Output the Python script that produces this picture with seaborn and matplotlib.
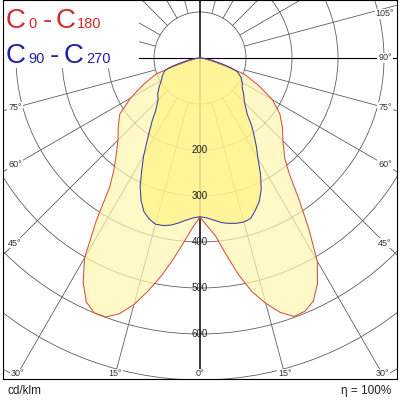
import numpy as np
import matplotlib
matplotlib.use("Agg")
import matplotlib.pyplot as plt
import seaborn as sns
from matplotlib.patches import Circle, Rectangle

# ── 배광 데이터 (cd/klm), 감마각 0°=하향 ─────────────────────────
gamma = [0, 2.5, 5, 7.5, 10, 12.5, 15, 17.5, 20, 22.5, 25, 27.5, 30, 32.5,
         35, 37.5, 40, 45, 50, 55, 60, 65, 70, 72.5, 75, 80, 85, 90]
c0 = [346, 366, 388, 430, 477, 520, 552, 580, 598, 596, 583, 553, 510, 440,
      375, 320, 287, 255, 234, 212, 182, 140, 102, 60, 33, 12, 4, 0]
c180 = [346, 369, 402, 440, 480, 518, 555, 583, 599, 600, 585, 550, 502, 420,
        342, 308, 285, 252, 232, 213, 175, 135, 102, 60, 33, 12, 4, 0]
c90 = [345, 348, 354, 361, 365, 368, 369, 366, 352, 337, 315, 285, 252, 228,
       205, 184, 160, 137, 124, 112, 106, 98, 86, 70, 50, 25, 10, 0]
c270 = [345, 348, 354, 362, 369, 373, 374, 367, 356, 335, 308, 274, 245, 214,
        190, 170, 150, 129, 120, 108, 97, 90, 82, 70, 50, 25, 10, 0]

rings = [100, 200, 300, 400, 500, 600, 700, 800, 900, 1000]
ring_labels = [200, 300, 400, 500, 600]
angle_ticks_right = [0, 15, 30, 45, 60, 75, 90, 105]
angle_ticks_left = [15, 30, 45, 60, 75]   # 90°, 105°는 범례 상자에 가려짐
radial_angles = [15, 30, 45, 60, 75, 105, 120, 135, 150, 165]

RED, BLUE, GRID = "#d8503c", "#3c3ca0", "#5e5e5e"
LEG_RED, LEG_BLUE = "#d42a2a", "#2020a8"
PX = 0.46  # 픽셀 / (cd/klm)

sns.set_style("white")
plt.rcParams["font.family"] = ["Liberation Sans", "DejaVu Sans"]

fig = plt.figure(figsize=(4, 4), dpi=100)
ax = fig.add_axes([3 / 400, 21 / 400, 394 / 400, 379 / 400])
ax.set_xlim(-197 / PX, 197 / PX)
ax.set_ylim(-321 / PX, 58 / PX)
ax.set_xticks([])
ax.set_yticks([])
for s in ax.spines.values():
    s.set_color("black")
    s.set_linewidth(0.8)
    s.set_zorder(10)

# ── 격자 ─────────────────────────────────────────────────────
for r in rings:
    ax.add_patch(Circle((0, 0), r, fill=False, ec=GRID, lw=0.6, zorder=1))
for a in radial_angles:
    t = np.radians(a)
    for side in (-1, 1):
        ax.plot([side * 100 * np.sin(t), side * 1000 * np.sin(t)],
                [-100 * np.cos(t), -1000 * np.cos(t)], color=GRID, lw=0.6, zorder=1)
ax.axvline(0, color="black", lw=1.1, zorder=1.5)
ax.axhline(0, color="black", lw=0.8, zorder=1.5)


def outline(left, right):
    g = np.radians(gamma)
    left, right = np.asarray(left, float), np.asarray(right, float)
    x = np.concatenate([(-left * np.sin(g))[::-1], (right * np.sin(g))[1:]])
    y = np.concatenate([(-left * np.cos(g))[::-1], (-right * np.cos(g))[1:]])
    return x, y


xr, yr = outline(c180, c0)
xb, yb = outline(c270, c90)
ax.fill(xr, yr, color="#fff7b0", alpha=0.7, lw=0, zorder=2)
ax.fill(xb, yb, color="#fff278", alpha=0.6, lw=0, zorder=2.1)
sns.lineplot(x=xr, y=yr, sort=False, estimator=None, color=RED, lw=0.75, ax=ax, zorder=3)
sns.lineplot(x=xb, y=yb, sort=False, estimator=None, color=BLUE, lw=0.75, ax=ax, zorder=3.1)

# ── 라벨 ─────────────────────────────────────────────────────
for r in ring_labels:
    ax.text(0, -r, str(r), ha="center", va="center", fontsize=7, color="#222222", zorder=4)

XB, YB, YT = 185 / PX, 316 / PX, 44 / PX


def label_pos(a):
    t = np.radians(a)
    dx, dy = np.sin(t), -np.cos(t)
    cand = [XB / dx] if dx > 1e-9 else []
    if dy < -1e-9:
        cand.append(YB / -dy)
    k = min(cand)
    return k * dx, min(k * dy, YT)


for side, ticks in ((1, angle_ticks_right), (-1, angle_ticks_left)):
    for a in ticks:
        px, py = label_pos(a)
        ax.text(side * px, py, f"{a}°", ha="center", va="center", fontsize=6.5,
                color="#333333", zorder=4,
                bbox=dict(fc="white", ec="none", pad=0.6))

# ── 범례 (좌상단) ─────────────────────────────────────────────
ax.add_patch(Rectangle((0, (379 - 68) / 379), 0.345, 0.2, transform=ax.transAxes,
                       fc="white", ec="none", zorder=5))
pieces = [
    (6, 28, "C", 20, LEG_RED), (28, 28, "0", 10.5, LEG_RED), (43, 28, "-", 20, LEG_RED),
    (56, 28, "C", 20, LEG_RED), (77, 28, "180", 10.5, LEG_RED),
    (6, 63, "C", 20, LEG_BLUE), (28, 63, "90", 10.5, LEG_BLUE), (50, 63, "-", 20, LEG_BLUE),
    (64, 63, "C", 20, LEG_BLUE), (86, 63, "270", 10.5, LEG_BLUE),
]
for x, y, s, fs, c in pieces:
    fig.text(x / 400, 1 - y / 400, s, fontsize=fs, color=c, ha="left", va="baseline", zorder=6)

fig.text(8 / 400, 1 - 391 / 400, "cd/klm", fontsize=8.5, color="#222222", ha="left", va="center")
fig.text(391 / 400, 1 - 391 / 400, "η = 100%", fontsize=8.5, color="#222222", ha="right", va="center")

plt.savefig("out.png", dpi=100)
plt.close()
